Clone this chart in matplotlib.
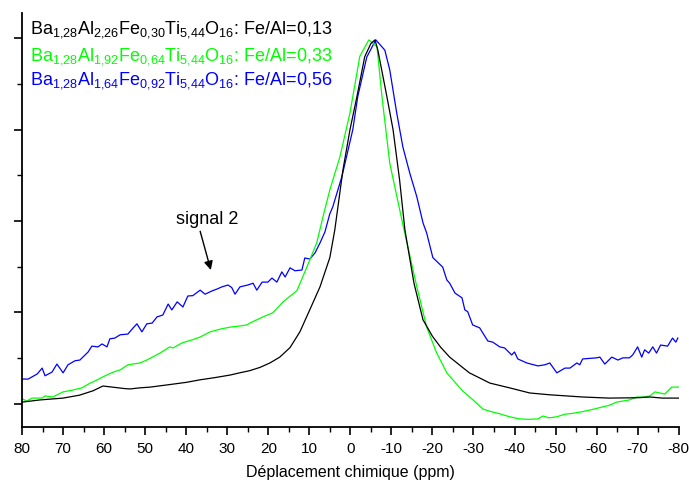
import numpy as np
import matplotlib
matplotlib.use("Agg")
import matplotlib.pyplot as plt
from matplotlib.ticker import MultipleLocator

plt.rcParams['font.family'] = ['Liberation Sans', 'DejaVu Sans']
plt.rcParams['mathtext.fontset'] = 'custom'
plt.rcParams['mathtext.rm'] = 'Liberation Sans'
plt.rcParams['mathtext.it'] = 'Liberation Sans'
plt.rcParams['mathtext.default'] = 'regular'
plt.rcParams['axes.unicode_minus'] = False

# Fe/Al = 0,13 (black)
ppm_013 = [80, 75.6, 70, 66, 62.7, 60.3, 58, 55, 53.7, 51.3, 48.8, 44, 40, 36.6, 33, 29.3,
           27, 24.5, 22, 19.6, 17.2, 14.7, 12.3, 9.9, 7.4, 5, 3.8, 1.8, 0.1, -1.6, -3.5, -5,
           -6, -6.7, -8.9, -10.4, -12, -13.3, -15.5, -17.7, -20, -22, -24.2, -29, -34, -38.8,
           -43.7, -48.6, -56.6, -63, -70, -73, -76, -80]
int_013 = [0.005, 0.011, 0.016, 0.024, 0.036, 0.049, 0.046, 0.042, 0.041, 0.044, 0.046, 0.053,
           0.059, 0.066, 0.072, 0.079, 0.085, 0.091, 0.100, 0.112, 0.128, 0.154, 0.197, 0.257,
           0.32, 0.40, 0.475, 0.64, 0.749, 0.84, 0.949, 0.985, 0.995, 0.967, 0.84, 0.75, 0.612,
           0.475, 0.33, 0.23, 0.185, 0.155, 0.128, 0.085, 0.057, 0.044, 0.03, 0.025, 0.019,
           0.016, 0.017, 0.019, 0.016, 0.016]

# Fe/Al = 0,33 (green)
ppm_033 = [80, 78.8, 77.6, 75.1, 74.4, 72.5, 70, 67.6, 65.4, 63.4, 62.2, 60.3, 57.8, 56.1, 54.2,
           51.3, 49.6, 46.4, 44, 43.2, 41, 38.6, 36.6, 34.2, 31.5, 29.3, 27, 25.2, 24.5, 21.3,
           18.9, 16.4, 13, 10.6, 8.2, 6.7, 5, 2.55, 0.1, -2.3, -4.5, -6.5, -7.7, -9.6, -12.8,
           -16.2, -18.6, -21, -23.5, -27.4, -30, -32.3, -34, -36.4, -38.8, -41.3, -43.5, -45.7,
           -46.9, -48.5, -50.3, -52.3, -54, -56.6, -59, -61.5, -63, -64.9, -68, -69.8, -71.5,
           -73, -74.2, -76.6, -78.3, -80]
int_033 = [0.014, 0.008, 0.016, 0.016, 0.022, 0.019, 0.033, 0.038, 0.044, 0.057, 0.063, 0.074,
           0.087, 0.093, 0.107, 0.112, 0.12, 0.139, 0.156, 0.153, 0.167, 0.175, 0.183, 0.197,
           0.205, 0.21, 0.213, 0.216, 0.221, 0.238, 0.249, 0.279, 0.31, 0.374, 0.44, 0.51,
           0.585, 0.675, 0.795, 0.95, 0.995, 0.976, 0.84, 0.658, 0.49, 0.32, 0.21, 0.14, 0.085,
           0.035, 0.01, -0.014, -0.02, -0.027, -0.035, -0.041, -0.042, -0.041, -0.033, -0.038,
           -0.035, -0.028, -0.026, -0.021, -0.015, -0.008, -0.004, 0.005, 0.011, 0.019, 0.019,
           0.022, 0.033, 0.027, 0.046, 0.046]

# Fe/Al = 0,56 (blue)
ppm_056 = [80, 78.5, 76.3, 75.1, 74.4, 72.7, 71.5, 70, 68.8, 67.1, 65.9, 63.9, 63, 61.5, 60.5,
           59.3, 58.6, 57.4, 56.1, 54.2, 53, 52, 50.8, 49.6, 48.3, 47.1, 45.7, 44.4, 43.5, 42.2,
           40.8, 39.6, 38.4, 36.6, 35.4, 33.7, 32.5, 31.3, 29.8, 28.9, 28.1, 26.9, 25, 23.7,
           22.8, 21.5, 20.1, 19.1, 17.9, 16.7, 15.9, 14.7, 13.5, 11.8, 11.1, 9.9, 8.6, 7.4, 6.2,
           5, 4.3, 2.1, 1.3, -0.6, -1.8, -4, -6.2, -8.4, -9.6, -11.3, -12.8, -14.5, -16.2,
           -17.7, -18.6, -20.1, -22.5, -23.5, -24.2, -25.5, -27.2, -27.9, -28.6, -29.8, -31.5,
           -33.5, -34.7, -36.4, -37.6, -39.3, -40, -40.8, -43, -45.7, -47.4, -48.6, -50.3,
           -52.3, -53.5, -55.2, -55.9, -56.6, -60, -60.8, -62, -63.7, -65.2, -66.4, -68, -68.8,
           -70, -71, -71.7, -72.7, -73.7, -74.6, -75.6, -77.3, -78.5, -79.3, -79.8]
int_056 = [0.068, 0.068, 0.082, 0.098, 0.077, 0.087, 0.109, 0.085, 0.107, 0.118, 0.12, 0.142,
           0.158, 0.156, 0.164, 0.156, 0.178, 0.18, 0.189, 0.191, 0.207, 0.219, 0.197, 0.219,
           0.221, 0.238, 0.243, 0.273, 0.257, 0.279, 0.265, 0.295, 0.296, 0.311, 0.30, 0.309,
           0.314, 0.32, 0.325, 0.318, 0.30, 0.32, 0.325, 0.33, 0.311, 0.333, 0.333, 0.344,
           0.333, 0.361, 0.347, 0.372, 0.364, 0.366, 0.399, 0.396, 0.413, 0.44, 0.47, 0.52,
           0.538, 0.62, 0.658, 0.75, 0.84, 0.948, 0.995, 0.967, 0.913, 0.795, 0.702, 0.63,
           0.566, 0.495, 0.467, 0.40, 0.374, 0.339, 0.33, 0.303, 0.29, 0.257, 0.252, 0.216,
           0.208, 0.172, 0.169, 0.156, 0.153, 0.134, 0.142, 0.123, 0.112, 0.104, 0.107, 0.112,
           0.085, 0.098, 0.098, 0.112, 0.107, 0.123, 0.126, 0.128, 0.109, 0.128, 0.12, 0.126,
           0.126, 0.134, 0.156, 0.128, 0.148, 0.139, 0.156, 0.139, 0.161, 0.158, 0.18, 0.169,
           0.18]

labels = [r'Ba$_{1{,}28}$Al$_{2{,}26}$Fe$_{0{,}30}$Ti$_{5{,}44}$O$_{16}$: Fe/Al=0,13',
          r'Ba$_{1{,}28}$Al$_{1{,}92}$Fe$_{0{,}64}$Ti$_{5{,}44}$O$_{16}$: Fe/Al=0,33',
          r'Ba$_{1{,}28}$Al$_{1{,}64}$Fe$_{0{,}92}$Ti$_{5{,}44}$O$_{16}$: Fe/Al=0,56']
colors = ['black', '#00ff00', '#0000ff']

fig = plt.figure(figsize=(6.89, 4.88), dpi=100)
ax = fig.add_axes([0.032, 0.125, 0.953, 0.848])

ax.plot(ppm_056, int_056, color=colors[2], lw=0.9)
ax.plot(ppm_033, int_033, color=colors[1], lw=0.9)
ax.plot(ppm_013, int_013, color=colors[0], lw=0.9)

ax.set_xlim(80, -80)
ax.set_ylim(-0.063, 1.068)
ax.xaxis.set_major_locator(MultipleLocator(10))
ax.xaxis.set_minor_locator(MultipleLocator(5))
ax.yaxis.set_major_locator(MultipleLocator(0.25))
ax.yaxis.set_minor_locator(MultipleLocator(0.125))
ax.tick_params(axis='both', which='major', direction='out', length=6, width=1.2)
ax.tick_params(axis='both', which='minor', direction='out', length=3.5, width=1.0)
ax.tick_params(axis='x', labelsize=11, pad=4.5)
ax.tick_params(axis='y', labelleft=False)
ax.spines['top'].set_visible(False)
ax.spines['right'].set_visible(False)
ax.spines['left'].set_linewidth(1.3)
ax.spines['bottom'].set_linewidth(1.3)
ax.set_xlabel('Déplacement chimique (ppm)', fontsize=11.5, labelpad=7)

ypos = [0.932, 0.877, 0.826]
for i in range(3):
    fig.text(0.044, ypos[i], labels[i], color=colors[i], fontsize=13, va='baseline', ha='left')

ax.text(35, 0.503, 'signal 2', fontsize=13, ha='center', va='center')
ax.annotate('', xy=(34, 0.366), xytext=(36.6, 0.472),
            arrowprops=dict(arrowstyle='-|>', color='black', lw=1.0, shrinkA=0, shrinkB=0,
                            mutation_scale=13))

fig.savefig('out.png', dpi=100)
